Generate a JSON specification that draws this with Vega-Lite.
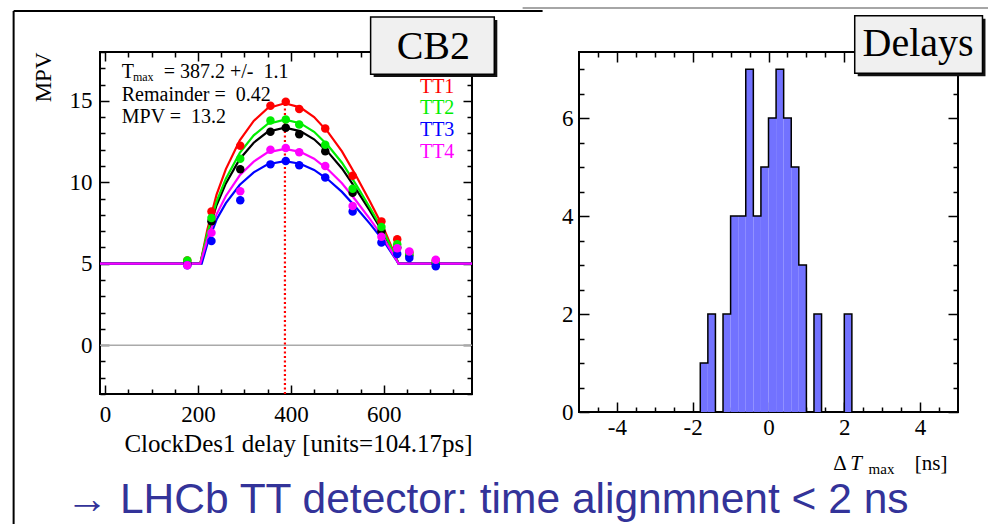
{
  "$schema": "https://vega.github.io/schema/vega-lite/v6.json",
  "autosize": {"type": "pad"},
  "padding": {"left": 11, "top": 6, "right": 0, "bottom": 0},
  "background": "white",
  "config": {
    "view": {"stroke": "#000", "strokeWidth": 2},
    "axis": {"grid": false, "domain": false, "labelFont": "Liberation Serif", "titleFont": "Liberation Serif", "labelColor": "#000", "titleColor": "#000", "tickColor": "#000", "tickWidth": 1.5, "titleFontWeight": "normal", "labelFontSize": 23, "titleFontSize": 25, "labelFlush": false, "labelOverlap": false},
    "text": {"font": "Liberation Serif"}
  },
  "datasets": {
    "points": [
      {"s":"mean","x":177,"y":5.0},{"s":"mean","x":229,"y":7.6},{"s":"mean","x":291,"y":10.8},{"s":"mean","x":356,"y":13.1},{"s":"mean","x":389,"y":13.35},{"s":"mean","x":418,"y":12.95},{"s":"mean","x":474,"y":11.9},{"s":"mean","x":533,"y":9.35},{"s":"mean","x":595,"y":7.0},{"s":"mean","x":629,"y":6.0},{"s":"mean","x":655,"y":5.5},{"s":"mean","x":712,"y":5.0},
      {"s":"TT1","x":177,"y":5.2},{"s":"TT1","x":229,"y":8.2},{"s":"TT1","x":291,"y":12.25},{"s":"TT1","x":356,"y":14.7},{"s":"TT1","x":389,"y":14.95},{"s":"TT1","x":418,"y":14.5},{"s":"TT1","x":474,"y":13.3},{"s":"TT1","x":533,"y":10.4},{"s":"TT1","x":595,"y":7.6},{"s":"TT1","x":629,"y":6.5},{"s":"TT1","x":655,"y":5.7},{"s":"TT1","x":712,"y":5.2},
      {"s":"TT2","x":177,"y":5.2},{"s":"TT2","x":229,"y":7.8},{"s":"TT2","x":291,"y":11.45},{"s":"TT2","x":356,"y":13.8},{"s":"TT2","x":389,"y":13.85},{"s":"TT2","x":418,"y":13.55},{"s":"TT2","x":474,"y":12.3},{"s":"TT2","x":533,"y":9.6},{"s":"TT2","x":595,"y":7.25},{"s":"TT2","x":629,"y":6.2},{"s":"TT2","x":655,"y":5.6},{"s":"TT2","x":712,"y":5.1},
      {"s":"TT3","x":177,"y":4.9},{"s":"TT3","x":229,"y":6.4},{"s":"TT3","x":291,"y":8.9},{"s":"TT3","x":356,"y":11.1},{"s":"TT3","x":389,"y":11.3},{"s":"TT3","x":418,"y":11.05},{"s":"TT3","x":474,"y":10.3},{"s":"TT3","x":533,"y":8.2},{"s":"TT3","x":595,"y":6.3},{"s":"TT3","x":629,"y":5.6},{"s":"TT3","x":655,"y":5.35},{"s":"TT3","x":712,"y":4.85},
      {"s":"TT4","x":177,"y":4.9},{"s":"TT4","x":229,"y":6.9},{"s":"TT4","x":291,"y":9.45},{"s":"TT4","x":356,"y":12.0},{"s":"TT4","x":389,"y":12.1},{"s":"TT4","x":418,"y":11.85},{"s":"TT4","x":474,"y":11.0},{"s":"TT4","x":533,"y":8.55},{"s":"TT4","x":595,"y":6.65},{"s":"TT4","x":629,"y":5.95},{"s":"TT4","x":655,"y":5.75},{"s":"TT4","x":712,"y":5.25}
    ],
    "fits": [
      {"s":"mean","x":-11,"y":5},{"s":"mean","x":205,"y":5},{"s":"mean","x":220,"y":6.75},{"s":"mean","x":240,"y":8.59},{"s":"mean","x":260,"y":9.93},{"s":"mean","x":290,"y":11.43},{"s":"mean","x":320,"y":12.43},{"s":"mean","x":350,"y":13.1},{"s":"mean","x":387,"y":13.35},{"s":"mean","x":420,"y":13.14},{"s":"mean","x":450,"y":12.64},{"s":"mean","x":480,"y":11.85},{"s":"mean","x":510,"y":10.85},{"s":"mean","x":540,"y":9.59},{"s":"mean","x":570,"y":8.26},{"s":"mean","x":600,"y":6.84},{"s":"mean","x":632,"y":5},{"s":"mean","x":790,"y":5},
      {"s":"TT1","x":-11,"y":5},{"s":"TT1","x":205,"y":5},{"s":"TT1","x":220,"y":7.07},{"s":"TT1","x":240,"y":9.24},{"s":"TT1","x":260,"y":10.81},{"s":"TT1","x":290,"y":12.58},{"s":"TT1","x":320,"y":13.77},{"s":"TT1","x":350,"y":14.55},{"s":"TT1","x":387,"y":14.85},{"s":"TT1","x":420,"y":14.6},{"s":"TT1","x":450,"y":14.01},{"s":"TT1","x":480,"y":13.08},{"s":"TT1","x":510,"y":11.9},{"s":"TT1","x":540,"y":10.42},{"s":"TT1","x":570,"y":8.84},{"s":"TT1","x":600,"y":7.17},{"s":"TT1","x":632,"y":5},{"s":"TT1","x":790,"y":5},
      {"s":"TT2","x":-11,"y":5},{"s":"TT2","x":205,"y":5},{"s":"TT2","x":220,"y":6.86},{"s":"TT2","x":240,"y":8.81},{"s":"TT2","x":260,"y":10.22},{"s":"TT2","x":290,"y":11.81},{"s":"TT2","x":320,"y":12.88},{"s":"TT2","x":350,"y":13.58},{"s":"TT2","x":387,"y":13.85},{"s":"TT2","x":420,"y":13.63},{"s":"TT2","x":450,"y":13.1},{"s":"TT2","x":480,"y":12.26},{"s":"TT2","x":510,"y":11.2},{"s":"TT2","x":540,"y":9.87},{"s":"TT2","x":570,"y":8.45},{"s":"TT2","x":600,"y":6.95},{"s":"TT2","x":632,"y":5},{"s":"TT2","x":790,"y":5},
      {"s":"TT3","x":-11,"y":5},{"s":"TT3","x":208,"y":5},{"s":"TT3","x":220,"y":6.2},{"s":"TT3","x":240,"y":7.71},{"s":"TT3","x":260,"y":8.72},{"s":"TT3","x":290,"y":9.85},{"s":"TT3","x":320,"y":10.61},{"s":"TT3","x":350,"y":11.11},{"s":"TT3","x":387,"y":11.3},{"s":"TT3","x":420,"y":11.14},{"s":"TT3","x":450,"y":10.76},{"s":"TT3","x":480,"y":10.17},{"s":"TT3","x":510,"y":9.41},{"s":"TT3","x":540,"y":8.47},{"s":"TT3","x":570,"y":7.46},{"s":"TT3","x":600,"y":6.39},{"s":"TT3","x":632,"y":5},{"s":"TT3","x":790,"y":5},
      {"s":"TT4","x":-11,"y":5},{"s":"TT4","x":205,"y":5},{"s":"TT4","x":220,"y":6.48},{"s":"TT4","x":240,"y":8.03},{"s":"TT4","x":260,"y":9.16},{"s":"TT4","x":290,"y":10.43},{"s":"TT4","x":320,"y":11.27},{"s":"TT4","x":350,"y":11.84},{"s":"TT4","x":387,"y":12.05},{"s":"TT4","x":420,"y":11.87},{"s":"TT4","x":450,"y":11.45},{"s":"TT4","x":480,"y":10.78},{"s":"TT4","x":510,"y":9.94},{"s":"TT4","x":540,"y":8.88},{"s":"TT4","x":570,"y":7.75},{"s":"TT4","x":600,"y":6.55},{"s":"TT4","x":632,"y":5},{"s":"TT4","x":790,"y":5}
    ],
    "bins": [
      {"x0":-1.8,"x1":-1.6,"n":1},{"x0":-1.6,"x1":-1.4,"n":2},{"x0":-1.2,"x1":-1.0,"n":2},{"x0":-1.0,"x1":-0.8,"n":4},{"x0":-0.8,"x1":-0.6,"n":4},{"x0":-0.6,"x1":-0.4,"n":7},{"x0":-0.4,"x1":-0.2,"n":4},{"x0":-0.2,"x1":0.0,"n":5},{"x0":0.0,"x1":0.2,"n":6},{"x0":0.2,"x1":0.4,"n":7},{"x0":0.4,"x1":0.6,"n":6},{"x0":0.6,"x1":0.8,"n":5},{"x0":0.8,"x1":1.0,"n":3},{"x0":1.2,"x1":1.4,"n":2},{"x0":2.0,"x1":2.2,"n":2}
    ],
    "outline": [
      {"i":0,"x":-1.8,"n":0},{"i":1,"x":-1.8,"n":1},{"i":2,"x":-1.6,"n":2},{"i":3,"x":-1.4,"n":0},{"i":4,"x":-1.2,"n":2},{"i":5,"x":-1.0,"n":4},{"i":6,"x":-0.8,"n":4},{"i":7,"x":-0.6,"n":7},{"i":8,"x":-0.4,"n":4},{"i":9,"x":-0.2,"n":5},{"i":10,"x":0.0,"n":6},{"i":11,"x":0.2,"n":7},{"i":12,"x":0.4,"n":6},{"i":13,"x":0.6,"n":5},{"i":14,"x":0.8,"n":3},{"i":15,"x":1.0,"n":0},{"i":16,"x":1.2,"n":2},{"i":17,"x":1.4,"n":0},{"i":18,"x":2.0,"n":2},{"i":19,"x":2.2,"n":0}
    ]
  },
  "hconcat": [
    {
      "width": 372,
      "height": 342,
      "resolve": {"axis": {"x": "independent", "y": "independent"}},
      "layer": [
        {
          "data": {"values": [{}]},
          "mark": {"type": "rule", "color": "#000", "strokeWidth": 2},
          "encoding": {
            "x": {"datum": -197, "type": "quantitative", "scale": {"domain": [-11, 790], "nice": false, "zero": false}, "axis": null},
            "y": {"datum": 20.51, "type": "quantitative", "scale": {"domain": [-3, 18], "nice": false, "zero": false}, "axis": null},
            "y2": {"datum": -11.5}
          }
        },
        {
          "data": {"values": [{}]},
          "mark": {"type": "rule", "color": "#000", "strokeWidth": 2},
          "encoding": {
            "x": {"datum": -197, "type": "quantitative", "scale": {"domain": [-11, 790], "nice": false, "zero": false}, "axis": null},
            "x2": {"datum": 942},
            "y": {"datum": 20.51, "type": "quantitative", "scale": {"domain": [-3, 18], "nice": false, "zero": false}, "axis": null}
          }
        },
        {
          "data": {"values": [{}]},
          "mark": {"type": "rule", "color": "#888", "strokeWidth": 1.5},
          "encoding": {
            "x": {"datum": 899, "type": "quantitative", "scale": {"domain": [-11, 790], "nice": false, "zero": false}, "axis": null},
            "x2": {"datum": 1909},
            "y": {"datum": 20.7, "type": "quantitative", "scale": {"domain": [-3, 18], "nice": false, "zero": false}, "axis": null}
          }
        },
        {
          "data": {"values": [{}]},
          "mark": {"type": "rule", "color": "#aaaaaa", "strokeWidth": 1.5},
          "encoding": {
            "y": {"datum": 0, "type": "quantitative", "scale": {"domain": [-3, 18], "nice": false, "zero": false}, "axis": null}
          }
        },
        {
          "data": {"name": "fits"},
          "mark": {"type": "line", "strokeWidth": 2.2},
          "encoding": {
            "x": {"field": "x", "type": "quantitative", "scale": {"domain": [-11, 790], "nice": false, "zero": false},
                  "axis": {"orient": "top", "values": [0,50,100,150,200,250,300,350,400,450,500,550,600,650,700,750], "labels": false, "title": null, "tickSize": {"condition": {"test": "datum.value % 200 === 0", "value": -9}, "value": -5}}},
            "y": {"field": "y", "type": "quantitative", "scale": {"domain": [-3, 18], "nice": false, "zero": false},
                  "axis": {"orient": "right", "values": [-3,-2,-1,0,1,2,3,4,5,6,7,8,9,10,11,12,13,14,15,16,17,18], "labels": false, "title": null, "tickSize": {"condition": {"test": "datum.value % 5 === 0", "value": -9}, "value": -5}}},
            "color": {"field": "s", "type": "nominal", "scale": {"domain": ["mean","TT1","TT2","TT3","TT4"], "range": ["#000000","#ff0000","#00ee00","#0000ff","#ff00ff"]}, "legend": null}
          }
        },
        {
          "data": {"values": [{}]},
          "mark": {"type": "rule", "color": "#ff0000", "strokeWidth": 2.2, "strokeDash": [2, 2.5]},
          "encoding": {
            "x": {"datum": 387.2, "type": "quantitative", "scale": {"domain": [-11, 790], "nice": false, "zero": false}, "axis": null},
            "y": {"datum": -3, "type": "quantitative", "scale": {"domain": [-3, 18], "nice": false, "zero": false}, "axis": null},
            "y2": {"datum": 15}
          }
        },
        {
          "data": {"name": "points"},
          "mark": {"type": "circle", "size": 72, "opacity": 1},
          "encoding": {
            "x": {"field": "x", "type": "quantitative", "scale": {"domain": [-11, 790], "nice": false, "zero": false},
                  "axis": {"orient": "bottom", "values": [0,50,100,150,200,250,300,350,400,450,500,550,600,650,700,750], "labelExpr": "datum.value % 200 === 0 ? datum.label : ''", "tickSize": {"condition": {"test": "datum.value % 200 === 0", "value": -9}, "value": -5}, "labelPadding": 18, "title": "ClockDes1 delay [units=104.17ps]", "titleAnchor": "end", "titlePadding": 1}},
            "y": {"field": "y", "type": "quantitative", "scale": {"domain": [-3, 18], "nice": false, "zero": false},
                  "axis": {"orient": "left", "values": [-3,-2,-1,0,1,2,3,4,5,6,7,8,9,10,11,12,13,14,15,16,17,18], "labelExpr": "datum.value % 5 === 0 ? datum.label : ''", "tickSize": {"condition": {"test": "datum.value % 5 === 0", "value": -9}, "value": -5}, "labelPadding": 17, "title": "MPV", "titleFontSize": 23, "titleAnchor": "end", "titlePadding": 14}},
            "color": {"field": "s", "type": "nominal", "scale": {"domain": ["mean","TT1","TT2","TT3","TT4"], "range": ["#000000","#ff0000","#00ee00","#0000ff","#ff00ff"]}, "legend": null}
          }
        },
        {
          "data": {"values": [
            {"t": "T", "x": 35.8, "y": 16.43},
            {"t": "= 387.2 +/-\u00a0\u00a01.1", "x": 126, "y": 16.43},
            {"t": "Remainder =\u00a0\u00a00.42", "x": 35.8, "y": 15.0},
            {"t": "MPV =\u00a0\u00a013.2", "x": 35.8, "y": 13.67}
          ]},
          "mark": {"type": "text", "fontSize": 20, "align": "left", "baseline": "alphabetic", "color": "#000"},
          "encoding": {
            "x": {"field": "x", "type": "quantitative", "scale": {"domain": [-11, 790], "nice": false, "zero": false}, "axis": null},
            "y": {"field": "y", "type": "quantitative", "scale": {"domain": [-3, 18], "nice": false, "zero": false}, "axis": null},
            "text": {"field": "t"}
          }
        },
        {
          "data": {"values": [{"t": "max", "x": 59.8, "y": 16.23}]},
          "mark": {"type": "text", "fontSize": 12, "align": "left", "baseline": "alphabetic", "color": "#000"},
          "encoding": {
            "x": {"field": "x", "type": "quantitative", "scale": {"domain": [-11, 790], "nice": false, "zero": false}, "axis": null},
            "y": {"field": "y", "type": "quantitative", "scale": {"domain": [-3, 18], "nice": false, "zero": false}, "axis": null},
            "text": {"field": "t"}
          }
        },
        {
          "data": {"values": [
            {"s": "TT1", "x": 752, "y": 15.51},
            {"s": "TT2", "x": 752, "y": 14.18},
            {"s": "TT3", "x": 752, "y": 12.83},
            {"s": "TT4", "x": 752, "y": 11.48}
          ]},
          "mark": {"type": "text", "fontSize": 20, "align": "right", "baseline": "alphabetic"},
          "encoding": {
            "x": {"field": "x", "type": "quantitative", "scale": {"domain": [-11, 790], "nice": false, "zero": false}, "axis": null},
            "y": {"field": "y", "type": "quantitative", "scale": {"domain": [-3, 18], "nice": false, "zero": false}, "axis": null},
            "text": {"field": "s"},
            "color": {"field": "s", "type": "nominal", "scale": {"domain": ["mean","TT1","TT2","TT3","TT4"], "range": ["#000000","#ff0000","#00ee00","#0000ff","#ff00ff"]}, "legend": null}
          }
        },
        {
          "data": {"values": [{}]},
          "mark": {"type": "rect", "fill": "#111", "stroke": null},
          "encoding": {
            "x": {"datum": 578.2, "type": "quantitative", "scale": {"domain": [-11, 790], "nice": false, "zero": false}, "axis": null},
            "x2": {"datum": 844.5},
            "y": {"datum": 19.97, "type": "quantitative", "scale": {"domain": [-3, 18], "nice": false, "zero": false}, "axis": null},
            "y2": {"datum": 16.46}
          }
        },
        {
          "data": {"values": [{}]},
          "mark": {"type": "rect", "fill": "#f0f0f0", "stroke": "#000", "strokeWidth": 1.5},
          "encoding": {
            "x": {"datum": 571.7, "type": "quantitative", "scale": {"domain": [-11, 790], "nice": false, "zero": false}, "axis": null},
            "x2": {"datum": 838},
            "y": {"datum": 20.15, "type": "quantitative", "scale": {"domain": [-3, 18], "nice": false, "zero": false}, "axis": null},
            "y2": {"datum": 16.64}
          }
        },
        {
          "data": {"values": [{"t": "CB2", "x": 706.8, "y": 17.6}]},
          "mark": {"type": "text", "fontSize": 40, "align": "center", "baseline": "alphabetic", "color": "#000"},
          "encoding": {
            "x": {"field": "x", "type": "quantitative", "scale": {"domain": [-11, 790], "nice": false, "zero": false}, "axis": null},
            "y": {"field": "y", "type": "quantitative", "scale": {"domain": [-3, 18], "nice": false, "zero": false}, "axis": null},
            "text": {"field": "t"}
          }
        },
        {
          "data": {"values": [{"t": "→ LHCb TT detector: time alignmnent < 2 ns", "x": -85, "y": -10.3}]},
          "mark": {"type": "text", "font": "Liberation Sans", "fontSize": 42.5, "align": "left", "baseline": "alphabetic", "color": "#333399"},
          "encoding": {
            "x": {"field": "x", "type": "quantitative", "scale": {"domain": [-11, 790], "nice": false, "zero": false}, "axis": null},
            "y": {"field": "y", "type": "quantitative", "scale": {"domain": [-3, 18], "nice": false, "zero": false}, "axis": null},
            "text": {"field": "t"}
          }
        }
      ]
    },
    {
      "width": 379,
      "height": 360,
      "resolve": {"axis": {"x": "independent", "y": "independent"}},
      "layer": [
        {
          "data": {"name": "bins"},
          "mark": {"type": "rect", "fill": "#7272ff", "stroke": null},
          "encoding": {
            "x": {"field": "x0", "type": "quantitative", "scale": {"domain": [-5, 5], "nice": false, "zero": false},
                  "axis": {"orient": "top", "values": [-4.5,-4,-3.5,-3,-2.5,-2,-1.5,-1,-0.5,0,0.5,1,1.5,2,2.5,3,3.5,4,4.5], "labels": false, "title": null, "tickSize": {"condition": {"test": "datum.value % 2 === 0", "value": -10}, "value": -5}}},
            "x2": {"field": "x1"},
            "y": {"field": "n", "type": "quantitative", "scale": {"domain": [0, 7.35], "nice": false, "zero": false},
                  "axis": {"orient": "right", "values": [0,0.5,1,1.5,2,2.5,3,3.5,4,4.5,5,5.5,6,6.5,7], "labels": false, "title": null, "tickSize": {"condition": {"test": "datum.value % 2 === 0", "value": -10}, "value": -5}}},
            "y2": {"datum": 0}
          }
        },
        {
          "data": {"name": "outline"},
          "mark": {"type": "line", "interpolate": "step-after", "color": "#000", "strokeWidth": 1.5},
          "encoding": {
            "x": {"field": "x", "type": "quantitative", "scale": {"domain": [-5, 5], "nice": false, "zero": false},
                  "axis": {"orient": "bottom", "values": [-4.5,-4,-3.5,-3,-2.5,-2,-1.5,-1,-0.5,0,0.5,1,1.5,2,2.5,3,3.5,4,4.5], "labelExpr": "datum.value % 2 === 0 ? toString(datum.value) : ''", "tickSize": {"condition": {"test": "datum.value % 2 === 0", "value": -10}, "value": -5}, "labelPadding": 14, "title": null}},
            "y": {"field": "n", "type": "quantitative", "scale": {"domain": [0, 7.35], "nice": false, "zero": false},
                  "axis": {"orient": "left", "values": [0,0.5,1,1.5,2,2.5,3,3.5,4,4.5,5,5.5,6,6.5,7], "labelExpr": "datum.value % 2 === 0 ? toString(datum.value) : ''", "tickSize": {"condition": {"test": "datum.value % 2 === 0", "value": -10}, "value": -5}, "labelPadding": 16, "title": null}},
            "order": {"field": "i", "type": "quantitative"}
          }
        },
        {
          "data": {"values": [{}]},
          "mark": {"type": "rect", "fill": "#111", "stroke": null},
          "encoding": {
            "x": {"datum": 2.354, "type": "quantitative", "scale": {"domain": [-5, 5], "nice": false, "zero": false}, "axis": null},
            "x2": {"datum": 5.725},
            "y": {"datum": 8.031, "type": "quantitative", "scale": {"domain": [0, 7.35], "nice": false, "zero": false}, "axis": null},
            "y2": {"datum": 6.855}
          }
        },
        {
          "data": {"values": [{}]},
          "mark": {"type": "rect", "fill": "#f0f0f0", "stroke": "#000", "strokeWidth": 1.5},
          "encoding": {
            "x": {"datum": 2.275, "type": "quantitative", "scale": {"domain": [-5, 5], "nice": false, "zero": false}, "axis": null},
            "x2": {"datum": 5.646},
            "y": {"datum": 8.092, "type": "quantitative", "scale": {"domain": [0, 7.35], "nice": false, "zero": false}, "axis": null},
            "y2": {"datum": 6.916}
          }
        },
        {
          "data": {"values": [{"t": "Delays", "x": 3.947, "y": 7.26}]},
          "mark": {"type": "text", "fontSize": 40, "align": "center", "baseline": "alphabetic", "color": "#000"},
          "encoding": {
            "x": {"field": "x", "type": "quantitative", "scale": {"domain": [-5, 5], "nice": false, "zero": false}, "axis": null},
            "y": {"field": "y", "type": "quantitative", "scale": {"domain": [0, 7.35], "nice": false, "zero": false}, "axis": null},
            "text": {"field": "t"}
          }
        },
        {
          "data": {"values": [{"t": "Δ", "x": 1.71, "y": -1.18}, {"t": "[ns]", "x": 3.86, "y": -1.18}]},
          "mark": {"type": "text", "fontSize": 21, "align": "left", "baseline": "alphabetic", "color": "#000"},
          "encoding": {
            "x": {"field": "x", "type": "quantitative", "scale": {"domain": [-5, 5], "nice": false, "zero": false}, "axis": null},
            "y": {"field": "y", "type": "quantitative", "scale": {"domain": [0, 7.35], "nice": false, "zero": false}, "axis": null},
            "text": {"field": "t"}
          }
        },
        {
          "data": {"values": [{"t": "T", "x": 2.16, "y": -1.18}]},
          "mark": {"type": "text", "fontSize": 21, "fontStyle": "italic", "align": "left", "baseline": "alphabetic", "color": "#000"},
          "encoding": {
            "x": {"field": "x", "type": "quantitative", "scale": {"domain": [-5, 5], "nice": false, "zero": false}, "axis": null},
            "y": {"field": "y", "type": "quantitative", "scale": {"domain": [0, 7.35], "nice": false, "zero": false}, "axis": null},
            "text": {"field": "t"}
          }
        },
        {
          "data": {"values": [{"t": "max", "x": 2.64, "y": -1.26}]},
          "mark": {"type": "text", "fontSize": 15, "align": "left", "baseline": "alphabetic", "color": "#000"},
          "encoding": {
            "x": {"field": "x", "type": "quantitative", "scale": {"domain": [-5, 5], "nice": false, "zero": false}, "axis": null},
            "y": {"field": "y", "type": "quantitative", "scale": {"domain": [0, 7.35], "nice": false, "zero": false}, "axis": null},
            "text": {"field": "t"}
          }
        }
      ]
    }
  ],
  "spacing": 107,
  "bounds": "flush"
}
